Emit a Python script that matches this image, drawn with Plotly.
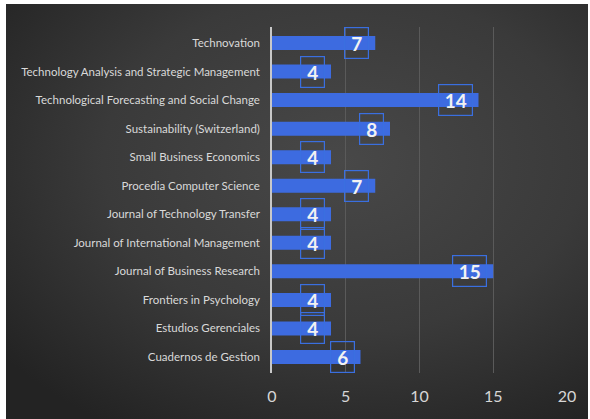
import base64
import plotly.graph_objects as go

journals = [
    "Technovation",
    "Technology Analysis and Strategic Management",
    "Technological Forecasting and Social Change",
    "Sustainability (Switzerland)",
    "Small Business Economics",
    "Procedia Computer Science",
    "Journal of Technology Transfer",
    "Journal of International Management",
    "Journal of Business Research",
    "Frontiers in Psychology",
    "Estudios Gerenciales",
    "Cuadernos de Gestion",
]
counts = [7, 4, 14, 8, 4, 7, 4, 4, 15, 4, 4, 6]
x_ticks = [0, 5, 10, 15, 20]

W, H = 590, 419
L, R, T, B = 272, 23, 27, 46
pw, ph = W - L - R, H - T - B

svg = (
    '<svg xmlns="http://www.w3.org/2000/svg" width="600" height="420" preserveAspectRatio="none">'
    '<defs><radialGradient id="g" cx="58%" cy="38%" r="75%">'
    '<stop offset="0%" stop-color="#484848"/>'
    '<stop offset="55%" stop-color="#3a3a3a"/>'
    '<stop offset="100%" stop-color="#232323"/>'
    '</radialGradient></defs>'
    '<rect width="600" height="420" fill="url(#g)"/></svg>'
)
src = "data:image/svg+xml;base64," + base64.b64encode(svg.encode()).decode()

bx0, bx1, by0, by1 = 6, 588, 4, 419
img_x = (bx0 - L) / pw
img_w = (bx1 - bx0) / pw
img_y = (H - B - by0) / ph
img_h = (by1 - by0) / ph

fig = go.Figure()
fig.add_trace(go.Bar(
    x=counts, y=journals, orientation="h",
    marker=dict(color="#3d6be0", line=dict(width=0)),
    hoverinfo="x+y",
))

for j, c in zip(journals, counts):
    w = 23 if c < 10 else 33
    fig.add_annotation(
        x=c, y=j, xref="x", yref="y", text=str(c),
        showarrow=False, xanchor="right", yanchor="middle", xshift=-6,
        width=w, height=30, align="center", valign="middle",
        bordercolor="#3a6fe0", borderwidth=1.2, borderpad=0,
        font=dict(family="Lato, Open Sans, sans-serif", size=19, color="#f2f2f2", weight="bold"),
    )

fig.add_layout_image(dict(
    source=src, xref="paper", yref="paper",
    x=img_x, y=img_y, sizex=img_w, sizey=img_h,
    xanchor="left", yanchor="top", sizing="stretch", layer="below",
))

fig.update_layout(
    width=W, height=H,
    margin=dict(l=L, r=R, t=T, b=B),
    paper_bgcolor="white", plot_bgcolor="rgba(0,0,0,0)",
    bargap=0.51, showlegend=False,
    font=dict(family="Lato, Open Sans, sans-serif", color="#d9d9d9"),
    xaxis=dict(
        range=[0, 20], tickvals=x_ticks, ticktext=[str(v) for v in x_ticks],
        showgrid=True, gridcolor="#5a5a5a", gridwidth=1,
        zeroline=False, showline=False,
        tickfont=dict(size=16, color="#d6d6d6"), ticklabelstandoff=12,
    ),
    yaxis=dict(
        autorange="reversed", showgrid=False,
        showline=True, linecolor="#c8c8c8", linewidth=1.5,
        tickfont=dict(size=11.5, color="#d9d9d9"), ticklabelstandoff=8,
    ),
)

fig.write_html(
    "out.html",
    config={"displayModeBar": False},
    post_script="document.body.style.margin='0';document.body.style.padding='0';",
)
